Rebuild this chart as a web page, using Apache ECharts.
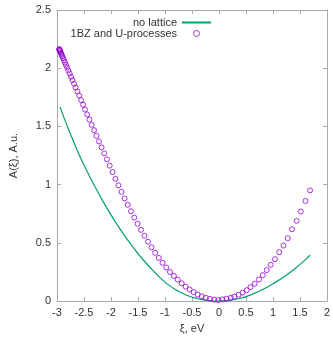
<!DOCTYPE html>
<html>
<head>
<meta charset="utf-8">
<script src="https://cdn.jsdelivr.net/npm/echarts@6/dist/echarts.min.js"></script>
<style>
html,body{margin:0;padding:0;background:#fff;}
#c{width:333px;height:339px;}
</style>
</head>
<body>
<div id="c"></div>
<script>
const xTicks = [-3, -2.5, -2, -1.5, -1, -0.5, 0, 0.5, 1, 1.5, 2];
const yTicks = [0, 0.5, 1, 1.5, 2, 2.5];
const seriesNames = ['no lattice', '1BZ and U-processes'];

const noLatticeX = [-2.945,-2.8,-2.6,-2.4,-2.2,-2.0,-1.8,-1.6,-1.4,-1.2,-1.0,-0.8,-0.6,-0.4,-0.2,0,0.2,0.4,0.6,0.8,1.0,1.2,1.4,1.6,1.687];
const noLatticeY = [1.668,1.492,1.268,1.075,0.900,0.740,0.597,0.469,0.353,0.252,0.163,0.097,0.050,0.022,0.005,0,0.006,0.025,0.056,0.097,0.149,0.207,0.276,0.356,0.394];

const bzX = [-2.958,-2.9567,-2.9537,-2.9491,-2.9428,-2.9348,-2.9252,-2.914,-2.9012,-2.8867,
  -2.8706,-2.8529,-2.8335,-2.8126,-2.7901,-2.766,-2.7402,-2.713,-2.6842,-2.6539,
  -2.6219,-2.5886,-2.5537,-2.5173,-2.4795,-2.4402,-2.3994,-2.3572,-2.3138,-2.2689,
  -2.2226,-2.1749,-2.1261,-2.0758,-2.0243,-1.9715,-1.9174,-1.8623,-1.8059,-1.7483,
  -1.6896,-1.6297,-1.5689,-1.5069,-1.4439,-1.3799,-1.3148,-1.249,-1.1821,-1.1144,
  -1.0458,-0.9764,-0.9061,-0.8351,-0.7633,-0.6908,-0.6177,-0.5438,-0.4694,-0.3944,
  -0.3187,-0.2427,-0.1661,-0.0891,-0.0116,
  0.066,0.139,0.219,0.284,0.364,0.437,0.515,0.583,0.661,0.740,
  0.812,0.885,0.958,1.038,1.117,1.195,1.275,1.353,1.439,1.517,1.603,1.687];
const bzY = [2.163,2.162,2.158,2.153,2.146,2.138,2.127,2.115,2.101,2.086,
  2.068,2.049,2.028,2.006,1.981,1.955,1.927,1.898,1.867,1.834,
  1.800,1.764,1.726,1.687,1.646,1.603,1.559,1.514,1.468,1.420,
  1.371,1.321,1.269,1.217,1.163,1.108,1.050,0.994,0.938,0.882,
  0.827,0.772,0.718,0.664,0.612,0.561,0.510,0.462,0.415,0.371,
  0.329,0.288,0.250,0.216,0.184,0.153,0.124,0.100,0.077,0.057,
  0.041,0.028,0.019,0.012,0.008,
  0.015,0.021,0.029,0.038,0.055,0.072,0.094,0.120,0.149,0.186,
  0.223,0.266,0.312,0.360,0.420,0.477,0.540,0.617,0.689,0.769,0.860,0.951];

const green = '#009e73';
const purple = '#9400d3';
const axisGray = '#aaaaaa';
const textColor = '#333333';
const font = 'Liberation Sans, Arial, sans-serif';

const pairs = (xs, ys) => xs.map((x, i) => [x, ys[i]]);

const baseAxis = {
  axisLine: { show: true, onZero: false, lineStyle: { color: axisGray, width: 1 } },
  axisTick: { show: true, inside: true, length: 4, lineStyle: { color: axisGray } },
  splitLine: { show: false }
};

const chart = echarts.init(document.getElementById('c'), null, { renderer: 'canvas' });
chart.setOption({
  animation: false,
  backgroundColor: '#ffffff',
  grid: { left: 55, right: 3.5, top: 10, bottom: 37.3, containLabel: false },
  legend: {
    orient: 'vertical',
    align: 'right',
    right: 116,
    top: 12,
    itemWidth: 29,
    itemHeight: 6,
    itemGap: 0,
    textStyle: { fontSize: 11, color: textColor, fontFamily: font, lineHeight: 11 },
    data: [
      { name: seriesNames[0], itemStyle: { color: 'rgba(0,0,0,0)', borderWidth: 0, opacity: 0 } },
      { name: seriesNames[1], icon: 'circle', itemStyle: { color: 'rgba(0,0,0,0)', borderColor: purple, borderWidth: 1 } }
    ]
  },
  xAxis: [
    Object.assign({}, baseAxis, {
      type: 'value', position: 'bottom', min: xTicks[0], max: xTicks[xTicks.length - 1], interval: 0.5,
      name: 'ξ, eV', nameLocation: 'middle', nameGap: 20,
      nameTextStyle: { fontSize: 11, color: textColor, fontFamily: font },
      axisLabel: { margin: 6, fontSize: 11, color: textColor, fontFamily: font }
    }),
    Object.assign({}, baseAxis, {
      type: 'value', position: 'top', min: xTicks[0], max: xTicks[xTicks.length - 1], interval: 0.5,
      axisLabel: { show: false }
    })
  ],
  yAxis: [
    Object.assign({}, baseAxis, {
      type: 'value', position: 'left', min: yTicks[0], max: yTicks[yTicks.length - 1], interval: 0.5,
      name: 'A(ξ), A.u.', nameLocation: 'middle', nameGap: 38,
      nameTextStyle: { fontSize: 11, color: textColor, fontFamily: font },
      axisLabel: { margin: 6, fontSize: 11, color: textColor, fontFamily: font }
    }),
    Object.assign({}, baseAxis, {
      type: 'value', position: 'right', min: yTicks[0], max: yTicks[yTicks.length - 1], interval: 0.5,
      axisLabel: { show: false }
    })
  ],
  series: [
    {
      name: seriesNames[0],
      type: 'line',
      xAxisIndex: 0, yAxisIndex: 0,
      data: pairs(noLatticeX, noLatticeY),
      smooth: true,
      symbol: 'none',
      lineStyle: { color: green, width: 1.2 },
      itemStyle: { color: green },
      z: 2
    },
    {
      name: seriesNames[1],
      type: 'scatter',
      xAxisIndex: 0, yAxisIndex: 0,
      data: pairs(bzX, bzY),
      symbol: 'circle',
      symbolSize: 5,
      itemStyle: { color: 'rgba(0,0,0,0)', borderColor: purple, borderWidth: 1 },
      z: 3
    }
  ]
});
</script>
</body>
</html>
